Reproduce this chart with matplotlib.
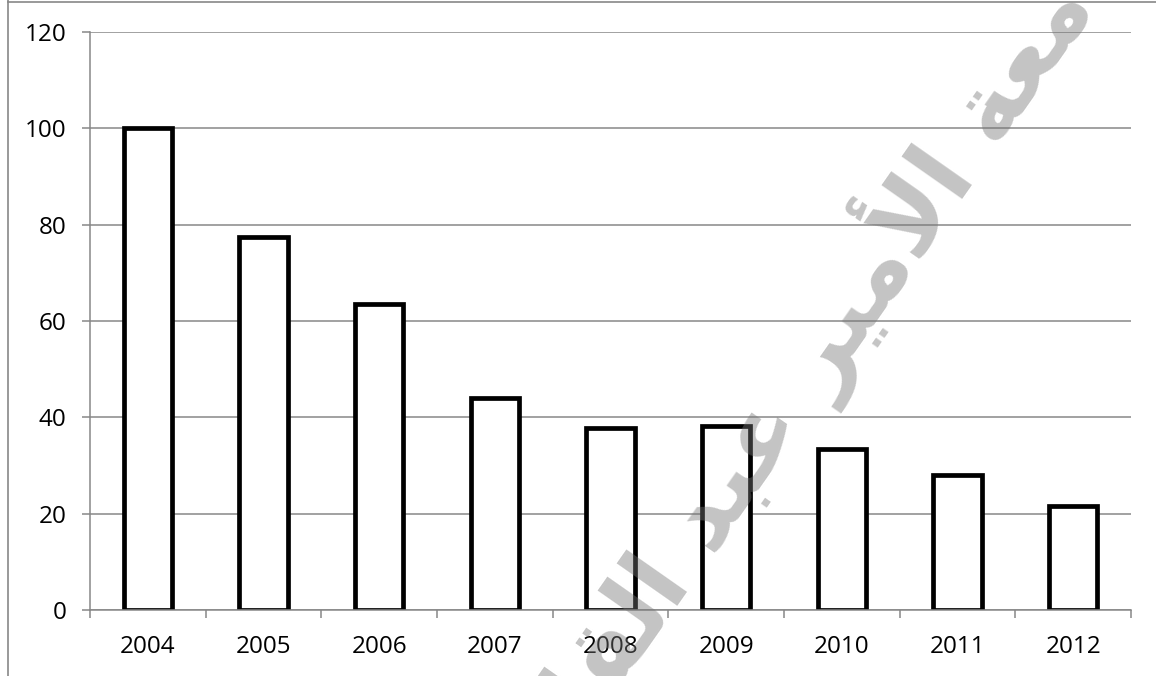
import numpy as np
import matplotlib
matplotlib.use("Agg")
import matplotlib.pyplot as plt
from matplotlib.lines import Line2D

# data
years = ["2004", "2005", "2006", "2007", "2008", "2009", "2010", "2011", "2012"]
values = [100, 77.5, 63.5, 44, 37.7, 38.3, 33.5, 28, 21.5]
y_ticks = [0, 20, 40, 60, 80, 100, 120]

# watermark, pre-shaped (presentation forms) since matplotlib does no arabic shaping
wm_words = [
    "\uFE9F\uFE8E\uFEE3\uFECC\uFE94",        # جامعة
    "\uFE8D\uFEF7\uFEE3\uFEF4\uFEAE",        # الأمير
    "\uFECB\uFE92\uFEAA",                    # عبد
    "\uFE8D\uFEDF\uFED8\uFE8E\uFEA9\uFEAD",  # القادر
]
wm_text = " ".join(wm_words)[::-1]

W, H = 1156, 676
fig = plt.figure(figsize=(W / 100, H / 100), dpi=100)
ax = fig.add_axes([90 / W, 1 - 610 / H, (1131 - 90) / W, (610 - 32) / H])

grey = "#878787"
x = np.arange(len(years))
ax.bar(x, values, width=0.42, color="white", edgecolor="black", linewidth=3.4, zorder=2)

ax.set_xlim(-0.5, len(years) - 0.5)
ax.set_ylim(0, 120)
ax.set_yticks(y_ticks)
ax.yaxis.grid(True, color=grey, linewidth=1.1, zorder=0)
ax.set_axisbelow(True)

for s in ["top", "right"]:
    ax.spines[s].set_visible(False)
for s in ["left", "bottom"]:
    ax.spines[s].set_color(grey)
    ax.spines[s].set_linewidth(1.1)
    ax.spines[s].set_zorder(3)

# labels centred on bars, tick marks between categories
ax.set_xticks(x)
ax.set_xticklabels(years)
ax.set_xticks(np.arange(-0.5, len(years)), minor=True)
ax.tick_params(axis="x", which="major", length=0, pad=18)
ax.tick_params(axis="x", which="minor", length=6, width=1.1, color=grey)
ax.tick_params(axis="y", length=6, width=1.1, color=grey, pad=11)

for lab in ax.get_xticklabels() + ax.get_yticklabels():
    lab.set_fontfamily("Open Sans")
    lab.set_fontsize(17.5)
    lab.set_color("black")

# outer chart frame
fig.add_artist(Line2D([8 / W, 8 / W], [0, 1], color=grey, lw=1.2))
fig.add_artist(Line2D([8 / W, 1], [1 - 1.5 / H, 1 - 1.5 / H], color=grey, lw=1.2))

fig.text(818 / W, 1 - 352 / H, wm_text, fontsize=70, fontweight="bold",
         family=["DejaVu Sans"], color="#767676", alpha=0.43,
         rotation=55, rotation_mode="anchor", ha="center", va="center", zorder=10)

fig.savefig("out.png", dpi=100)
